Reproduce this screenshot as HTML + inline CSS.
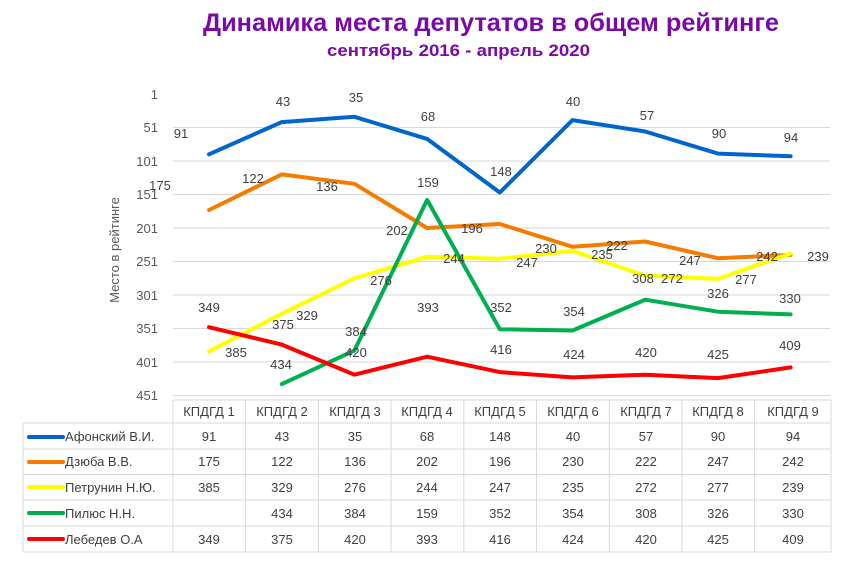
<!DOCTYPE html>
<html><head><meta charset="utf-8"><style>
body{margin:0;background:#fff;}
svg text{font-family:"Liberation Sans","DejaVu Sans",sans-serif;}
</style></head><body>
<svg width="844" height="557" viewBox="0 0 844 557" xmlns="http://www.w3.org/2000/svg">
<text x="203" y="31" font-size="25" font-weight="bold" fill="#7a0aa6" textLength="576" lengthAdjust="spacingAndGlyphs">Динамика места депутатов в общем рейтинге</text>
<text x="327" y="56" font-size="17" font-weight="bold" fill="#7a0aa6" textLength="263" lengthAdjust="spacingAndGlyphs">сентябрь 2016 - апрель 2020</text>
<g stroke="#d9d9d9" stroke-width="1">
<line x1="173" x2="830" y1="127.5" y2="127.5"/><line x1="173" x2="830" y1="161" y2="161"/>
<line x1="173" x2="830" y1="194.5" y2="194.5"/><line x1="173" x2="830" y1="228" y2="228"/>
<line x1="173" x2="830" y1="261.5" y2="261.5"/><line x1="173" x2="830" y1="295" y2="295"/>
<line x1="173" x2="830" y1="328.5" y2="328.5"/><line x1="173" x2="830" y1="362" y2="362"/>
<line x1="173" x2="830" y1="395.5" y2="395.5"/>
</g>
<g font-size="13" fill="#595959" text-anchor="end">
<text x="158" y="99">1</text><text x="158" y="132">51</text><text x="158" y="166">101</text>
<text x="158" y="199">151</text><text x="158" y="233">201</text><text x="158" y="266">251</text>
<text x="158" y="300">301</text><text x="158" y="333">351</text><text x="158" y="367">401</text>
<text x="158" y="400">451</text>
</g>
<text transform="translate(119,250) rotate(-90)" text-anchor="middle" font-size="13" fill="#595959">Место в рейтинге</text>
<g fill="none" stroke-width="4" stroke-linejoin="round" stroke-linecap="round">
<polyline stroke="#0066cc" points="209,154.3 281.7,122.1 354.4,116.8 427.1,138.9 499.8,192.5 572.5,120.1 645.2,131.5 717.9,153.6 790.6,156.3"/>
<polyline stroke="#f57c00" points="209,210 281.7,174.4 354.4,183.8 427.1,228 499.8,224 572.5,246.8 645.2,241.5 717.9,258.2 790.6,254.9"/>
<polyline stroke="#ffff00" points="209,351.3 281.7,313.8 354.4,278.3 427.1,256.8 499.8,258.8 572.5,250.8 645.2,275.6 717.9,278.9 790.6,253.5"/>
<polyline stroke="#00b050" points="281.7,384.1 354.4,350.6 427.1,199.9 499.8,329.2 572.5,330.5 645.2,299.7 717.9,311.7 790.6,314.4"/>
<polyline stroke="#ff0000" points="209,327.2 281.7,344.6 354.4,374.7 427.1,356.7 499.8,372.1 572.5,377.4 645.2,374.7 717.9,378.1 790.6,367.4"/>
</g>
<g font-size="13" fill="#404040" text-anchor="middle">
<text x="181" y="138">91</text><text x="283" y="106">43</text><text x="356" y="102">35</text><text x="428" y="121">68</text><text x="501" y="176">148</text><text x="573" y="106">40</text><text x="647" y="120">57</text><text x="719" y="138">90</text><text x="791" y="142">94</text>
<text x="160" y="190">175</text><text x="253" y="183">122</text><text x="327" y="191">136</text><text x="397" y="235">202</text><text x="472" y="233">196</text><text x="546" y="253">230</text><text x="617" y="250">222</text><text x="690" y="265">247</text><text x="767" y="261">242</text>
<text x="236" y="357">385</text><text x="307" y="320">329</text><text x="381" y="285">276</text><text x="454" y="263">244</text><text x="527" y="267">247</text><text x="602" y="259">235</text><text x="672" y="283">272</text><text x="746" y="284">277</text><text x="818" y="261">239</text>
<text x="281" y="369">434</text><text x="356" y="336">384</text><text x="428" y="187">159</text><text x="501" y="312">352</text><text x="574" y="316">354</text><text x="643" y="283">308</text><text x="718" y="298">326</text><text x="790" y="303">330</text>
<text x="209" y="312">349</text><text x="283" y="329">375</text><text x="356" y="357">420</text><text x="428" y="312">393</text><text x="501" y="354">416</text><text x="574" y="359">424</text><text x="646" y="357">420</text><text x="718" y="359">425</text><text x="790" y="350">409</text>
</g>
<g stroke="#d9d9d9" stroke-width="1" fill="none">
<line x1="173" x2="831" y1="400" y2="400"/>
<line x1="23" x2="831" y1="423" y2="423"/><line x1="23" x2="831" y1="449" y2="449"/>
<line x1="23" x2="831" y1="474.5" y2="474.5"/><line x1="23" x2="831" y1="500" y2="500"/>
<line x1="23" x2="831" y1="526" y2="526"/><line x1="23" x2="831" y1="552" y2="552"/>
<line x1="23" x2="23" y1="423" y2="552"/>
<line x1="173" x2="173" y1="400" y2="552"/><line x1="245.7" x2="245.7" y1="400" y2="552"/><line x1="318.4" x2="318.4" y1="400" y2="552"/><line x1="391.1" x2="391.1" y1="400" y2="552"/><line x1="463.8" x2="463.8" y1="400" y2="552"/><line x1="536.5" x2="536.5" y1="400" y2="552"/><line x1="609.2" x2="609.2" y1="400" y2="552"/><line x1="681.9" x2="681.9" y1="400" y2="552"/><line x1="754.6" x2="754.6" y1="400" y2="552"/><line x1="831" x2="831" y1="400" y2="552"/>
</g>
<g stroke-width="4" stroke-linecap="round">
<line x1="29" x2="63" y1="437" y2="437" stroke="#0066cc"/>
<line x1="29" x2="63" y1="462" y2="462" stroke="#f57c00"/>
<line x1="29" x2="63" y1="487" y2="487" stroke="#ffff00"/>
<line x1="29" x2="63" y1="513" y2="513" stroke="#00b050"/>
<line x1="29" x2="63" y1="539" y2="539" stroke="#ff0000"/>
</g>
<g font-size="13" fill="#404040">
<text x="65" y="441">Афонский В.И.</text><text x="65" y="466">Дзюба В.В.</text><text x="65" y="492">Петрунин Н.Ю.</text><text x="65" y="518">Пилюс Н.Н.</text><text x="65" y="544">Лебедев О.А</text>
</g>
<g font-size="13" fill="#404040" text-anchor="middle">
<text x="209" y="416">КПДГД 1</text><text x="282" y="416">КПДГД 2</text><text x="355" y="416">КПДГД 3</text><text x="427" y="416">КПДГД 4</text><text x="500" y="416">КПДГД 5</text><text x="573" y="416">КПДГД 6</text><text x="646" y="416">КПДГД 7</text><text x="718" y="416">КПДГД 8</text><text x="793" y="416">КПДГД 9</text>
<text x="209" y="441">91</text><text x="282" y="441">43</text><text x="355" y="441">35</text><text x="427" y="441">68</text><text x="500" y="441">148</text><text x="573" y="441">40</text><text x="646" y="441">57</text><text x="718" y="441">90</text><text x="793" y="441">94</text>
<text x="209" y="466">175</text><text x="282" y="466">122</text><text x="355" y="466">136</text><text x="427" y="466">202</text><text x="500" y="466">196</text><text x="573" y="466">230</text><text x="646" y="466">222</text><text x="718" y="466">247</text><text x="793" y="466">242</text>
<text x="209" y="492">385</text><text x="282" y="492">329</text><text x="355" y="492">276</text><text x="427" y="492">244</text><text x="500" y="492">247</text><text x="573" y="492">235</text><text x="646" y="492">272</text><text x="718" y="492">277</text><text x="793" y="492">239</text>
<text x="282" y="518">434</text><text x="355" y="518">384</text><text x="427" y="518">159</text><text x="500" y="518">352</text><text x="573" y="518">354</text><text x="646" y="518">308</text><text x="718" y="518">326</text><text x="793" y="518">330</text>
<text x="209" y="544">349</text><text x="282" y="544">375</text><text x="355" y="544">420</text><text x="427" y="544">393</text><text x="500" y="544">416</text><text x="573" y="544">424</text><text x="646" y="544">420</text><text x="718" y="544">425</text><text x="793" y="544">409</text>
</g>
</svg>
</body></html>
